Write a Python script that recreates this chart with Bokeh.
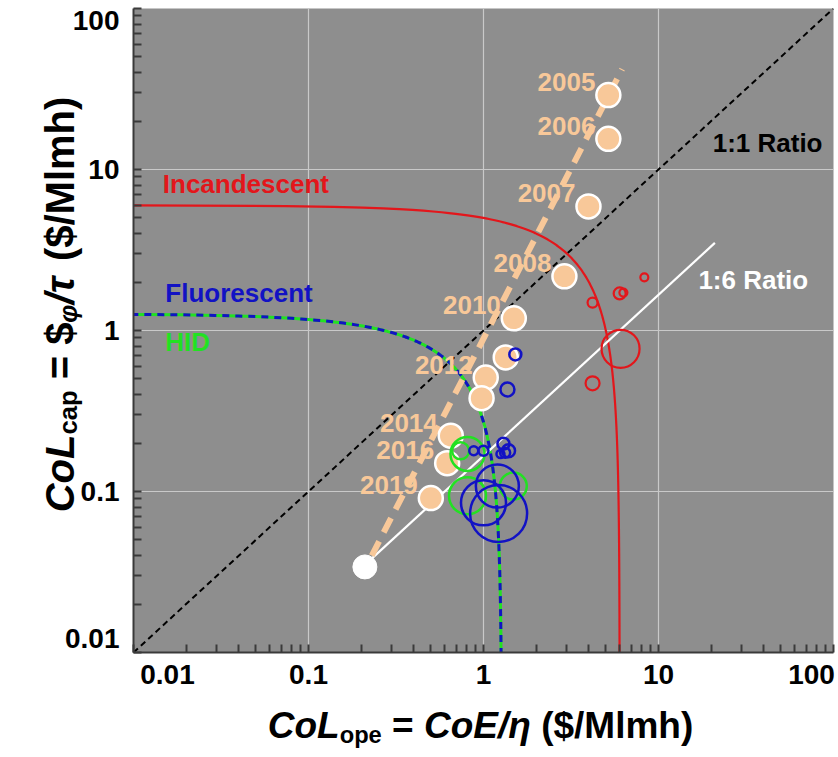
import numpy as np
from bokeh.plotting import figure
from bokeh.layouts import GridBox
from bokeh.models import Label, FixedTicker, CustomJSTickFormatter, Range1d
from bokeh.core.properties import value
from bokeh.embed import file_html
from bokeh.resources import INLINE

# ---------------- data ----------------
tick_values = [0.01, 0.1, 1, 10, 100]
tick_labels = ["0.01", "0.1", "1", "10", "100"]

# LED price trajectory (CoL_ope, CoL_cap) and year labels
led_x = [5.17, 5.17, 3.98, 2.90, 1.49, 1.34, 1.03, 0.975, 0.65, 0.62, 0.50]
led_y = [29.0, 15.5, 5.9, 2.17, 1.19, 0.68, 0.51, 0.38, 0.222, 0.150, 0.091]
led_year = ["2005", "2006", "2007", "2008", "2010", "", "2012", "", "2014", "2016", "2019"]

# LED trend line (end points) and target point
trend_x = [0.23, 6.2]
trend_y = [0.040, 42.0]
target_x = [0.21]
target_y = [0.034]

# iso total-cost curves (CoL_ope + CoL_cap = total)
incandescent_total = 6.0
fluorescent_total = 1.27
hid_total = 1.27

# products
inc_x = [6.07, 4.2, 4.2, 6.0, 6.3, 8.3]
inc_y = [0.77, 0.47, 1.49, 1.70, 1.72, 2.14]
inc_w = [38, 14, 10, 12, 8, 8]

flu_x = [1.52, 1.37, 0.88, 1.0, 1.30, 1.33, 1.39, 1.25, 1.20, 1.0, 1.22]
flu_y = [0.71, 0.43, 0.179, 0.179, 0.198, 0.174, 0.179, 0.171, 0.108, 0.085, 0.073]
flu_w = [12, 14, 9, 10, 12, 10, 13, 8, 43, 45, 57]

hid_x = [0.81, 0.74, 0.81, 1.48]
hid_y = [0.171, 0.179, 0.094, 0.108]
hid_w = [34, 17, 37, 27]

# ratio lines
ratio11_x = [0.01, 100]
ratio16_x = [0.21, 21]
ratio16 = 6.0

# ---------------- style ----------------
FONT = "Liberation Sans"
BG = "#8e8e8e"
RED = "#e3161b"
BLUE = "#1212c4"
GREEN = "#22e122"
PEACH = "#f8c899"

WIDTH, HEIGHT = 838, 757

p = figure(width=WIDTH, height=HEIGHT, x_axis_type="log", y_axis_type="log",
           x_range=Range1d(0.01, 100), y_range=Range1d(0.01, 100),
           output_backend="svg", toolbar_location=None,
           min_border_left=133, min_border_right=5, min_border_top=8,
           min_border_bottom=HEIGHT - 652)
p.background_fill_color = BG
p.border_fill_color = "white"
p.outline_line_color = None
p.frame_align = False

FRAME_W = WIDTH - 133 - 5
FRAME_H = 652 - 8
dec_x = FRAME_W / 4.0
dec_y = FRAME_H / 4.0

all_ticks = [m * 10.0 ** e for e in range(-2, 2) for m in range(1, 10)] + [100.0]
# edge tick labels are nudged inward as in the original figure (pixels)
x_nudge = [34, 0, 0, 0, -22]
y_nudge = [14, 0, 0, 0, -12]
x_lab_pos = [v * 10 ** (n / dec_x) for v, n in zip(tick_values, x_nudge)]
y_lab_pos = [v * 10 ** (n / dec_y) for v, n in zip(tick_values, y_nudge)]

for ax, pos, standoff in ((p.xaxis[0], x_lab_pos, 12), (p.yaxis[0], y_lab_pos, 14)):
    ax.ticker = FixedTicker(ticks=pos, minor_ticks=all_ticks)
    ax.formatter = CustomJSTickFormatter(args=dict(labels=tick_labels),
                                         code="return labels[index]")
    ax.major_tick_line_color = None
    ax.major_tick_in = 0
    ax.major_tick_out = 0
    ax.minor_tick_in = 8
    ax.minor_tick_out = 0
    ax.axis_line_color = "#3a3a3a"
    ax.axis_line_width = 2
    ax.minor_tick_line_color = "#3a3a3a"
    ax.minor_tick_line_width = 2
    ax.major_label_text_font = FONT
    ax.major_label_text_font_style = "bold"
    ax.major_label_text_font_size = "28px"
    ax.major_label_text_color = "black"
    ax.major_label_standoff = standoff
    ax.axis_label = None

p.xgrid[0].ticker = FixedTicker(ticks=tick_values)
p.ygrid[0].ticker = FixedTicker(ticks=tick_values)
p.grid.grid_line_color = "#c9c9c9"
p.grid.grid_line_width = 1.2

# 1:1 ratio
p.line(ratio11_x, ratio11_x, line_color="black", line_width=2, line_dash="6 4")

# iso-cost curves
def iso(total):
    yy = np.logspace(np.log10(0.008), np.log10(total - 0.008), 600)
    return total - yy, yy

ix, iy = iso(incandescent_total)
p.line(ix, iy, line_color=RED, line_width=2.2)
hx, hy = iso(hid_total)
p.line(hx, hy, line_color=GREEN, line_width=3)
fx, fy = iso(fluorescent_total)
p.line(fx, fy, line_color=BLUE, line_width=3, line_dash="7 6")

# 1:6 ratio
p.line(ratio16_x, [v / ratio16 for v in ratio16_x], line_color="white", line_width=2.2)

# LED trend
p.line(trend_x, trend_y, line_color=PEACH, line_width=6, line_dash="16 10")

# LED points
p.scatter(led_x, led_y, size=24, fill_color=PEACH, line_color="white", line_width=2.5)
p.scatter(target_x, target_y, size=24, fill_color="white", line_color="white")

# product bubbles
p.scatter(hid_x, hid_y, size=hid_w, fill_color=None, line_color=GREEN, line_width=2.5)
p.scatter(flu_x, flu_y, size=flu_w, fill_color=None, line_color=BLUE, line_width=2.5)
p.scatter(inc_x, inc_y, size=inc_w, fill_color=None, line_color=RED, line_width=2.2)

# year labels
yx = [x for x, t in zip(led_x, led_year) if t]
yy_ = [y for y, t in zip(led_y, led_year) if t]
yt = [t for t in led_year if t]
p.text(yx, yy_, text=yt, text_font=value(FONT), text_font_style="bold",
       text_font_size="26px", text_color=PEACH, text_align="right",
       text_baseline="middle", x_offset=-13, y_offset=-13)

def add_label(x, y, text, color, size="26px", **kw):
    p.add_layout(Label(x=x, y=y, text=text, text_font=FONT, text_font_style="bold",
                       text_font_size=size, text_color=color, **kw))

add_label(0.0147, 8.1, "Incandescent", RED, text_baseline="middle")
add_label(0.0152, 1.70, "Fluorescent", BLUE, text_baseline="middle")
add_label(0.0152, 0.85, "HID", GREEN, text_baseline="middle")
add_label(20.4, 14.6, "1:1 Ratio", "black", text_baseline="middle")
add_label(16.9, 2.05, "1:6 Ratio", "white", text_baseline="middle")

# ---------------- axis titles (rich text on a transparent overlay) ----------------
W = {' ': 278, '$': 556, '(': 333, ')': 333, '/': 278, '=': 584, 'C': 722, 'E': 667,
     'L': 611, 'M': 833, 'a': 556, 'c': 556, 'e': 556, 'h': 611, 'l': 278, 'm': 889,
     'o': 611, 'p': 611, 'η': 611, 'φ': 722, 'τ': 520}

def seg_width(s, fs):
    return sum(W.get(ch, 600) for ch in s) / 1000.0 * fs

SUB = 0.64
xsegs = [("CoL", "bold italic", False), ("ope", "bold", True), (" = ", "bold", False),
         ("CoE/η", "bold italic", False), (" ($/Mlmh)", "bold", False)]
ysegs = [("CoL", "bold italic", False), ("cap", "bold", True), (" = $", "bold", False),
         ("φ", "bold italic", True), ("/τ", "bold italic", False), (" ($/Mlmh)", "bold", False)]

def layout_segments(segs, fsize):
    """text pieces with leading spaces turned into offsets"""
    tot = sum(seg_width(s, fsize * SUB if sub else fsize) for s, _, sub in segs)
    out, pos = [], 0.0
    for s, style, sub in segs:
        fs = fsize * SUB if sub else fsize
        lead = len(s) - len(s.lstrip(' '))
        out.append((s.strip(' '), style, fs, pos + lead * seg_width(' ', fs), sub))
        pos += seg_width(s, fs)
    return tot, out

ov = figure(width=WIDTH, height=HEIGHT, x_range=Range1d(0, WIDTH), y_range=Range1d(0, HEIGHT),
            output_backend="svg", toolbar_location=None,
            x_axis_location=None, y_axis_location=None,
            min_border=0, min_border_left=0, min_border_right=0,
            min_border_top=0, min_border_bottom=0)
ov.grid.visible = False
ov.outline_line_color = None
ov.background_fill_alpha = 0
ov.border_fill_alpha = 0
ov.frame_align = False

# x title
FX = 37
tot, segs = layout_segments(xsegs, FX)
start = 480 - tot / 2
base = HEIGHT - 725
for s, style, fs, off, sub in segs:
    ov.text([start + off], [base - (0.27 * FX if sub else 0)], text=[s],
            text_font=value(FONT), text_font_style=style, text_font_size=f"{fs:.1f}px",
            text_color="black", text_align="left", text_baseline="alphabetic")

# y title (rotated, reading upward)
FY = 40
tot, segs = layout_segments(ysegs, FY)
start = (HEIGHT - 304) - tot / 2
for s, style, fs, off, sub in segs:
    ov.text([59 + (0.22 * FY if sub else 0)], [start + off], text=[s],
            text_font=value(FONT), text_font_style=style, text_font_size=f"{fs:.1f}px",
            text_color="black", text_align="left", text_baseline="alphabetic",
            angle=np.pi / 2)

layout = GridBox(children=[(p, 0, 0), (ov, 0, 0)])
open("out.html", "w").write(file_html(layout, INLINE))
